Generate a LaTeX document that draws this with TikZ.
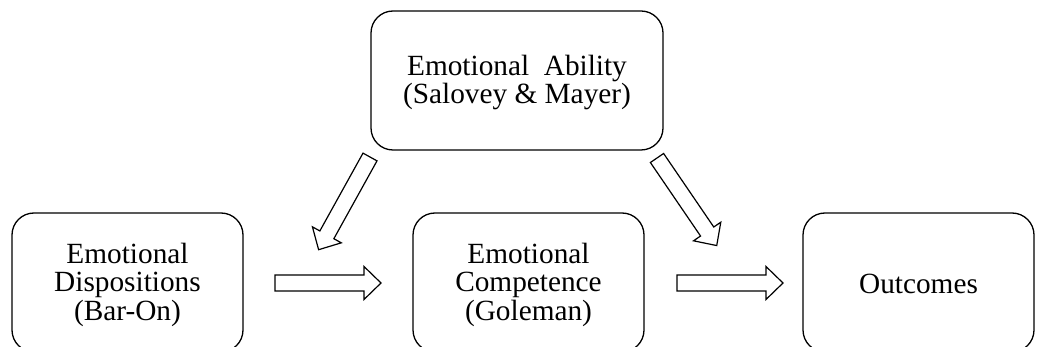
\documentclass[tikz,border=0pt]{standalone}
\usepackage{fontspec}
\setmainfont{Liberation Serif}
\newcommand\blockarr[2]{%
  \draw[blockarrow, shift={(#1)}, rotate=#2]
    (0,-8) -- (89,-8) -- (89,-16.5) -- (106,0) -- (89,16.5) -- (89,8) -- (0,8) -- cycle;}
\begin{document}
\begin{tikzpicture}[x=1pt, y=-1pt,
  box/.style={draw, line width=1.3pt, rounded corners=22pt, inner sep=0pt,
              minimum width=231pt, minimum height=139pt},
  txt/.style={font=\fontsize{29.3}{28.5}\selectfont, align=center, inner sep=0pt},
  blockarrow/.style={draw, line width=1.2pt, line join=miter, fill=white}]
\useasboundingbox (0,0) rectangle (1037,347);
\clip (0,0) rectangle (1037,347);

% boxes
\node[box, minimum width=292pt] (ability) at (517,80.5) {};
\node[box] (dispositions) at (127.5,282.5) {};
\node[box] (competence) at (528.5,282.5) {};
\node[box] (outcomes) at (918.5,282.5) {};

% texts
\node[txt] (abilitytxt) at ([yshift=-2pt]ability.center) {Emotional\hspace{0.5em}Ability\\(Salovey \& Mayer)};
\node[txt] (disptxt) at ([yshift=-2pt]dispositions.center) {Emotional\\Dispositions\\(Bar-On)};
\node[txt] (comptxt) at ([yshift=-2pt]competence.center) {Emotional\\Competence\\(Goleman)};
\node[txt] (outtxt) at ([yshift=-1.5pt]outcomes.center) {Outcomes};

% block arrows (tail centre, direction)
\coordinate (a1) at (275,283);
\coordinate (a2) at (677,283);
\coordinate (a3) at (370,157);
\coordinate (a4) at (657,158);
\blockarr{a1}{0}
\blockarr{a2}{0}
\blockarr{a3}{241}
\blockarr{a4}{-55.7}
\end{tikzpicture}
\end{document}
